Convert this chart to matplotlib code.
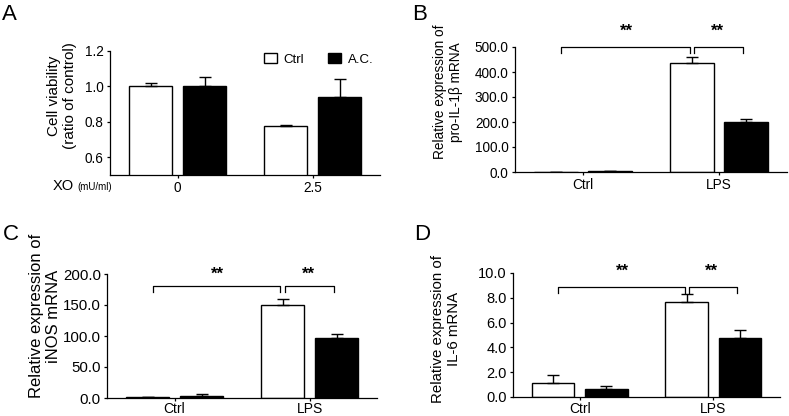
import numpy as np
import matplotlib
matplotlib.use('Agg')
import matplotlib.pyplot as plt

plt.rcParams['font.family'] = ['Liberation Sans', 'DejaVu Sans']

W, H = 789, 416

# data
groups_a = ['0', '2.5']
ctrl_a = [1.0, 0.775]
ctrl_a_err = [0.02, 0.005]
ac_a = [1.0, 0.94]
ac_a_err = [0.055, 0.10]

groups = ['Ctrl', 'LPS']
ctrl_b = [0.8, 435.0]
ctrl_b_err = [0.3, 26.0]
ac_b = [3.0, 202.0]
ac_b_err = [1.0, 9.0]

ctrl_c = [1.0, 149.5]
ctrl_c_err = [0.5, 10.0]
ac_c = [3.0, 97.0]
ac_c_err = [3.0, 5.5]

ctrl_d = [1.1, 7.65]
ctrl_d_err = [0.65, 0.65]
ac_d = [0.68, 4.75]
ac_d_err = [0.22, 0.62]


def px_axes(l, t, r, b):
    return fig.add_axes([l / W, 1 - b / H, (r - l) / W, (b - t) / H])


def ftext(x, y, s, **kw):
    fig.text(x / W, 1 - y / H, s, **kw)


def bar_panel(ax, ctrl, ctrl_err, ac, ac_err, labels, ylim, yticks, fmt, tfs, xpad=2):
    x = np.arange(len(labels))
    w, off = 0.32, 0.2
    for xs, v, e, c in [(x - off, ctrl, ctrl_err, 'white'), (x + off, ac, ac_err, 'black')]:
        ax.bar(xs, v, width=w, color=c, edgecolor='black', linewidth=1.0, zorder=2)
        ax.errorbar(xs, v, yerr=[np.zeros(len(e)), e], fmt='none', ecolor='black',
                    elinewidth=1.0, capsize=4.5, capthick=1.0, zorder=3)
    ax.set_xlim(-0.5, len(labels) - 0.5)
    ax.set_ylim(*ylim)
    ax.set_yticks(yticks)
    ax.set_yticklabels([fmt % t for t in yticks])
    ax.set_xticks(x)
    ax.set_xticklabels(labels)
    for s in ['top', 'right']:
        ax.spines[s].set_visible(False)
    for s in ['left', 'bottom']:
        ax.spines[s].set_linewidth(0.9)
    ax.tick_params(length=2.5, width=0.9, labelsize=tfs, pad=2)
    ax.tick_params(axis='x', pad=xpad)


def brackets(ax, y, drop, star_y, fs):
    xl, xm, xr, g = -0.16, 0.80, 1.18, 0.015
    ax.plot([xl, xl, xm - g, xm - g], [y - drop, y, y, y - drop], color='black', lw=0.9, clip_on=False)
    ax.plot([xm + g, xm + g, xr, xr], [y - drop, y, y, y - drop], color='black', lw=0.9, clip_on=False)
    ax.text((xl + xm) / 2, star_y, '**', ha='center', va='center', fontsize=fs, fontweight='bold', clip_on=False)
    ax.text((xm + xr) / 2, star_y, '**', ha='center', va='center', fontsize=fs, fontweight='bold', clip_on=False)


fig = plt.figure(figsize=(W / 100, H / 100), dpi=100)

# A
axA = px_axes(110, 51, 380, 175)
bar_panel(axA, ctrl_a, ctrl_a_err, ac_a, ac_a_err, groups_a, (0.5, 1.2),
          [0.6, 0.8, 1.0, 1.2], '%.1f', 9.8)
ftext(62, 96, 'Cell viability\n(ratio of control)', rotation=90, ha='center', va='center', fontsize=11)
ftext(53, 186, 'XO', ha='left', va='center', fontsize=10.5)
ftext(77, 187, '(mU/ml)', ha='left', va='center', fontsize=7)
axA.legend(handles=[plt.Rectangle((0, 0), 1, 1, fc='white', ec='black', lw=1.0),
                    plt.Rectangle((0, 0), 1, 1, fc='black', ec='black', lw=1.0)],
           labels=['Ctrl', 'A.C.'], ncol=2, frameon=False, fontsize=9.5,
           handlelength=1.0, handleheight=0.8, handletextpad=0.5, columnspacing=1.8,
           loc='upper right', bbox_to_anchor=(1.02, 1.08))

# B
axB = px_axes(515, 47, 787, 172)
bar_panel(axB, ctrl_b, ctrl_b_err, ac_b, ac_b_err, groups, (0, 500),
          [0, 100, 200, 300, 400, 500], '%.1f', 9.8)
brackets(axB, 502, 24, 562, 12)
ftext(448, 92, 'Relative expression of\npro-IL-1\u03b2 mRNA', rotation=90, ha='center', va='center', fontsize=9.8)

# C
axC = px_axes(107, 274, 377, 398)
bar_panel(axC, ctrl_c, ctrl_c_err, ac_c, ac_c_err, groups, (0, 200),
          [0, 50, 100, 150, 200], '%.1f', 10.8, xpad=0.5)
for lab in axC.get_xticklabels():
    lab.set_fontsize(10)
brackets(axC, 181, 10, 199, 12)
ftext(45, 316, 'Relative expression of\niNOS mRNA', rotation=90, ha='center', va='center', fontsize=12)

# D
axD = px_axes(513, 273, 780, 397)
bar_panel(axD, ctrl_d, ctrl_d_err, ac_d, ac_d_err, groups, (0, 10),
          [0, 2, 4, 6, 8, 10], '%.1f', 10.5, xpad=1)
for lab in axD.get_xticklabels():
    lab.set_fontsize(10)
brackets(axD, 8.9, 0.55, 10.1, 12)
ftext(446, 329, 'Relative expression of\nIL-6 mRNA', rotation=90, ha='center', va='center', fontsize=10.8)

# panel letters
for x, y, s in [(2, 15, 'A'), (412, 14, 'B'), (3, 234, 'C'), (414, 234, 'D')]:
    ftext(x, y, s, ha='left', va='center', fontsize=16)

fig.savefig('out.png', dpi=100)
